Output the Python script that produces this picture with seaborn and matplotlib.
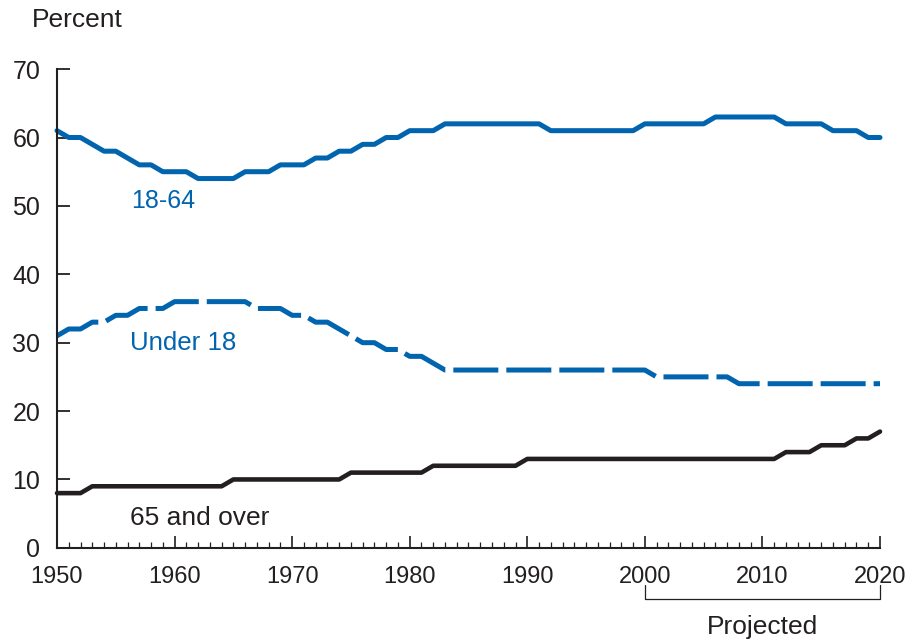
import numpy as np
import pandas as pd

import matplotlib
matplotlib.use("Agg")
import matplotlib.pyplot as plt
import matplotlib.transforms as mtransforms
import seaborn as sns

# ==========================================
# DATA
# ==========================================

years = list(range(1950, 2021))

age_18_64 = (
    [61, 60, 60, 59, 58, 58, 57, 56, 56, 55,
     55, 55, 54, 54, 54, 54, 55, 55, 55, 56,
     56, 56, 57, 57, 58, 58, 59, 59, 60, 60,
     61, 61, 61]
    + [62] * 9      # 1983-1991
    + [61] * 8      # 1992-1999
    + [62] * 6      # 2000-2005
    + [63] * 6      # 2006-2011
    + [62] * 4      # 2012-2015
    + [61] * 3      # 2016-2018
    + [60] * 2      # 2019-2020
)

under_18 = (
    [31, 32, 32, 33, 33, 34, 34, 35, 35, 35,
     36, 36, 36, 36, 36, 36, 36, 35, 35, 35,
     34, 34, 33, 33, 32, 31, 30, 30, 29, 29,
     28, 28, 27]
    + [26] * 18     # 1983-2000
    + [25] * 7      # 2001-2007
    + [24] * 13     # 2008-2020
)

age_65_over = (
    [8] * 3         # 1950-1952
    + [9] * 12      # 1953-1964
    + [10] * 10     # 1965-1974
    + [11] * 7      # 1975-1981
    + [12] * 8      # 1982-1989
    + [13] * 22     # 1990-2011
    + [14] * 3      # 2012-2014
    + [15] * 3      # 2015-2017
    + [16] * 2      # 2018-2019
    + [17]          # 2020
)

df = pd.DataFrame({
    'year': years,
    '18-64': age_18_64,
    'Under 18': under_18,
    '65 and over': age_65_over
})

BLUE = '#0064AF'
BLACK = '#231F20'

# ==========================================
# STYLE
# ==========================================

sns.set_style("ticks")
plt.rcParams['font.family'] = ['Liberation Sans', 'DejaVu Sans']

fig = plt.figure(figsize=(9.09, 6.4), dpi=100)
ax = fig.add_axes([0.0627, 0.1440, 0.9054, 0.7480])

# ==========================================
# LINES
# ==========================================

sns.lineplot(data=df, x='year', y='18-64', ax=ax,
             color=BLUE, linewidth=3.6, clip_on=False)

sns.lineplot(data=df, x='year', y='Under 18', ax=ax,
             color=BLUE, linewidth=3.6, clip_on=False,
             linestyle=(0, (9, 1.6)))

sns.lineplot(data=df, x='year', y='65 and over', ax=ax,
             color=BLACK, linewidth=3.3, clip_on=False)

# ==========================================
# AXES
# ==========================================

ax.set_xlim(1950, 2020)
ax.set_ylim(0, 70)
ax.set_xlabel("")
ax.set_ylabel("")

ax.set_xticks(range(1950, 2021, 10))
ax.set_xticks(range(1950, 2021, 1), minor=True)
ax.set_yticks(range(0, 71, 10))

sns.despine(ax=ax)
for side in ['left', 'bottom']:
    ax.spines[side].set_linewidth(1.5)
    ax.spines[side].set_color(BLACK)

ax.tick_params(axis='y', direction='in', length=9, width=1.3,
               pad=12, labelsize=18, colors=BLACK)
ax.tick_params(axis='x', which='major', direction='in', length=9,
               width=1.2, pad=13, labelsize=17, colors=BLACK)
ax.tick_params(axis='x', which='minor', direction='in', length=4.5,
               width=0.9, colors=BLACK)

# ==========================================
# LABELS
# ==========================================

ax.text(1956.3, 50.7, "18-64", color=BLUE, fontsize=18,
        ha='left', va='center')
ax.text(1956.2, 30.0, "Under 18", color=BLUE, fontsize=18.6,
        ha='left', va='center')
ax.text(1956.2, 4.3, "65 and over", color=BLACK, fontsize=19,
        ha='left', va='center')

fig.text(77 / 909, 1 - 20 / 640, "Percent", fontsize=19,
         color=BLACK, ha='center', va='center')

# projected bracket
trans = mtransforms.blended_transform_factory(ax.transData, ax.transAxes)
ax.plot([2000, 2000, 2020, 2020], [-0.078, -0.106, -0.106, -0.078],
        color=BLACK, linewidth=0.9, transform=trans, clip_on=False)
ax.text(2010, -0.165, "Projected", fontsize=19, color=BLACK,
        ha='center', va='center', transform=trans)

fig.savefig("out.png", dpi=100)
plt.close(fig)
